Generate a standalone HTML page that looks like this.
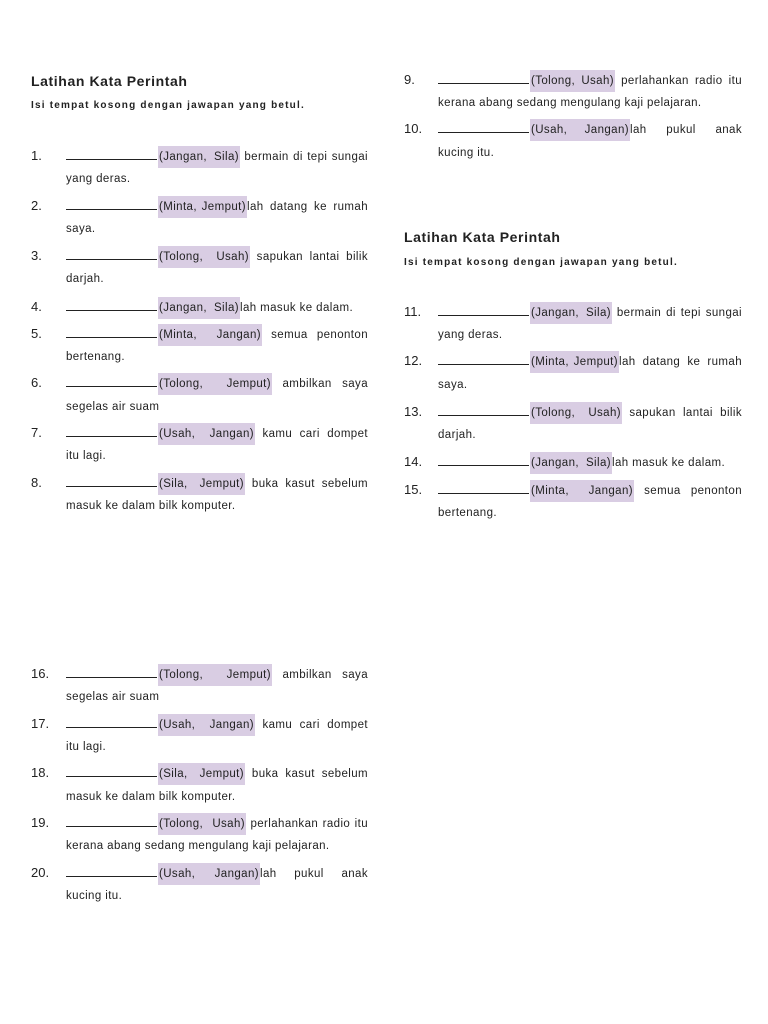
<!DOCTYPE html>
<html><head><meta charset="utf-8"><style>
body{margin:0;width:768px;height:1024px;background:#fff;position:relative;font-family:"Liberation Sans",sans-serif;color:#222;overflow:hidden}
div{position:absolute;white-space:nowrap}
.n{font-size:13px;line-height:16px}
.l{font-size:11.5px;line-height:16px;height:16px;text-align:justify;text-align-last:justify;letter-spacing:0.4px;white-space:normal;margin-top:-2px}
.nj{text-align-last:left}
.c{font-size:11.5px;line-height:16px;letter-spacing:0.4px}
.b{display:inline-block;width:91px;height:12px;border-bottom:1px solid #222;vertical-align:baseline;margin-right:1px}
.h{display:inline-block;background:#d9cde3;padding:3px 1px;line-height:16px;text-align:justify;text-align-last:justify;box-sizing:border-box;vertical-align:baseline;white-space:nowrap}
.t{font-size:14px;font-weight:bold;letter-spacing:0.6px}
.s{font-size:10px;font-weight:bold;letter-spacing:1.2px}
</style></head><body>
<div class="t" style="left:31px;top:73px">Latihan Kata Perintah</div>
<div class="s" style="left:31px;top:100px">Isi tempat kosong dengan jawapan yang betul.</div>

<div class="n" style="left:31px;top:148px">1.</div><div class="l" style="left:66px;top:148px;width:302px"><span class="b"></span><span class="h" style="width:82px">(Jangan, Sila)</span> bermain di tepi sungai</div><div class="c" style="left:66px;top:171px">yang deras.</div>
<div class="n" style="left:31px;top:198px">2.</div><div class="l" style="left:66px;top:198px;width:302px"><span class="b"></span><span class="h" style="width:89px">(Minta, Jemput)</span>lah datang ke rumah</div><div class="c" style="left:66px;top:221px">saya.</div>
<div class="n" style="left:31px;top:248px">3.</div><div class="l" style="left:66px;top:248px;width:302px"><span class="b"></span><span class="h" style="width:92px">(Tolong, Usah)</span> sapukan lantai bilik</div><div class="c" style="left:66px;top:271px">darjah.</div>
<div class="n" style="left:31px;top:299px">4.</div><div class="l nj" style="left:66px;top:299px;width:302px"><span class="b"></span><span class="h" style="width:82px">(Jangan, Sila)</span>lah masuk ke dalam.</div>
<div class="n" style="left:31px;top:326px">5.</div><div class="l" style="left:66px;top:326px;width:302px"><span class="b"></span><span class="h" style="width:104px">(Minta, Jangan)</span> semua penonton</div><div class="c" style="left:66px;top:349px">bertenang.</div>
<div class="n" style="left:31px;top:375px">6.</div><div class="l" style="left:66px;top:375px;width:302px"><span class="b"></span><span class="h" style="width:114px">(Tolong, Jemput)</span> ambilkan saya</div><div class="c" style="left:66px;top:399px">segelas air suam</div>
<div class="n" style="left:31px;top:425px">7.</div><div class="l" style="left:66px;top:425px;width:302px"><span class="b"></span><span class="h" style="width:97px">(Usah, Jangan)</span> kamu cari dompet</div><div class="c" style="left:66px;top:448px">itu lagi.</div>
<div class="n" style="left:31px;top:475px">8.</div><div class="l" style="left:66px;top:475px;width:302px"><span class="b"></span><span class="h" style="width:87px">(Sila, Jemput)</span> buka kasut sebelum</div><div class="c" style="left:66px;top:498px">masuk ke dalam bilk komputer.</div>

<div class="n" style="left:404px;top:72px">9.</div><div class="l" style="left:438px;top:72px;width:304px"><span class="b"></span><span class="h" style="width:85px">(Tolong, Usah)</span> perlahankan radio itu</div><div class="c" style="left:438px;top:95px">kerana abang sedang mengulang kaji pelajaran.</div>
<div class="n" style="left:404px;top:121px">10.</div><div class="l" style="left:438px;top:121px;width:304px"><span class="b"></span><span class="h" style="width:100px">(Usah, Jangan)</span>lah pukul anak</div><div class="c" style="left:438px;top:145px">kucing itu.</div>

<div class="t" style="left:404px;top:229px">Latihan Kata Perintah</div>
<div class="s" style="left:404px;top:257px">Isi tempat kosong dengan jawapan yang betul.</div>

<div class="n" style="left:404px;top:304px">11.</div><div class="l" style="left:438px;top:304px;width:304px"><span class="b"></span><span class="h" style="width:82px">(Jangan, Sila)</span> bermain di tepi sungai</div><div class="c" style="left:438px;top:327px">yang deras.</div>
<div class="n" style="left:404px;top:353px">12.</div><div class="l" style="left:438px;top:353px;width:304px"><span class="b"></span><span class="h" style="width:89px">(Minta, Jemput)</span>lah datang ke rumah</div><div class="c" style="left:438px;top:377px">saya.</div>
<div class="n" style="left:404px;top:404px">13.</div><div class="l" style="left:438px;top:404px;width:304px"><span class="b"></span><span class="h" style="width:92px">(Tolong, Usah)</span> sapukan lantai bilik</div><div class="c" style="left:438px;top:427px">darjah.</div>
<div class="n" style="left:404px;top:454px">14.</div><div class="l nj" style="left:438px;top:454px;width:304px"><span class="b"></span><span class="h" style="width:82px">(Jangan, Sila)</span>lah masuk ke dalam.</div>
<div class="n" style="left:404px;top:482px">15.</div><div class="l" style="left:438px;top:482px;width:304px"><span class="b"></span><span class="h" style="width:104px">(Minta, Jangan)</span> semua penonton</div><div class="c" style="left:438px;top:505px">bertenang.</div>

<div class="n" style="left:31px;top:666px">16.</div><div class="l" style="left:66px;top:666px;width:302px"><span class="b"></span><span class="h" style="width:114px">(Tolong, Jemput)</span> ambilkan saya</div><div class="c" style="left:66px;top:689px">segelas air suam</div>
<div class="n" style="left:31px;top:716px">17.</div><div class="l" style="left:66px;top:716px;width:302px"><span class="b"></span><span class="h" style="width:97px">(Usah, Jangan)</span> kamu cari dompet</div><div class="c" style="left:66px;top:739px">itu lagi.</div>
<div class="n" style="left:31px;top:765px">18.</div><div class="l" style="left:66px;top:765px;width:302px"><span class="b"></span><span class="h" style="width:87px">(Sila, Jemput)</span> buka kasut sebelum</div><div class="c" style="left:66px;top:789px">masuk ke dalam bilk komputer.</div>
<div class="n" style="left:31px;top:815px">19.</div><div class="l" style="left:66px;top:815px;width:302px"><span class="b"></span><span class="h" style="width:88px">(Tolong, Usah)</span> perlahankan radio itu</div><div class="c" style="left:66px;top:838px">kerana abang sedang mengulang kaji pelajaran.</div>
<div class="n" style="left:31px;top:865px">20.</div><div class="l" style="left:66px;top:865px;width:302px"><span class="b"></span><span class="h" style="width:102px">(Usah, Jangan)</span>lah pukul anak</div><div class="c" style="left:66px;top:888px">kucing itu.</div>
</body></html>
